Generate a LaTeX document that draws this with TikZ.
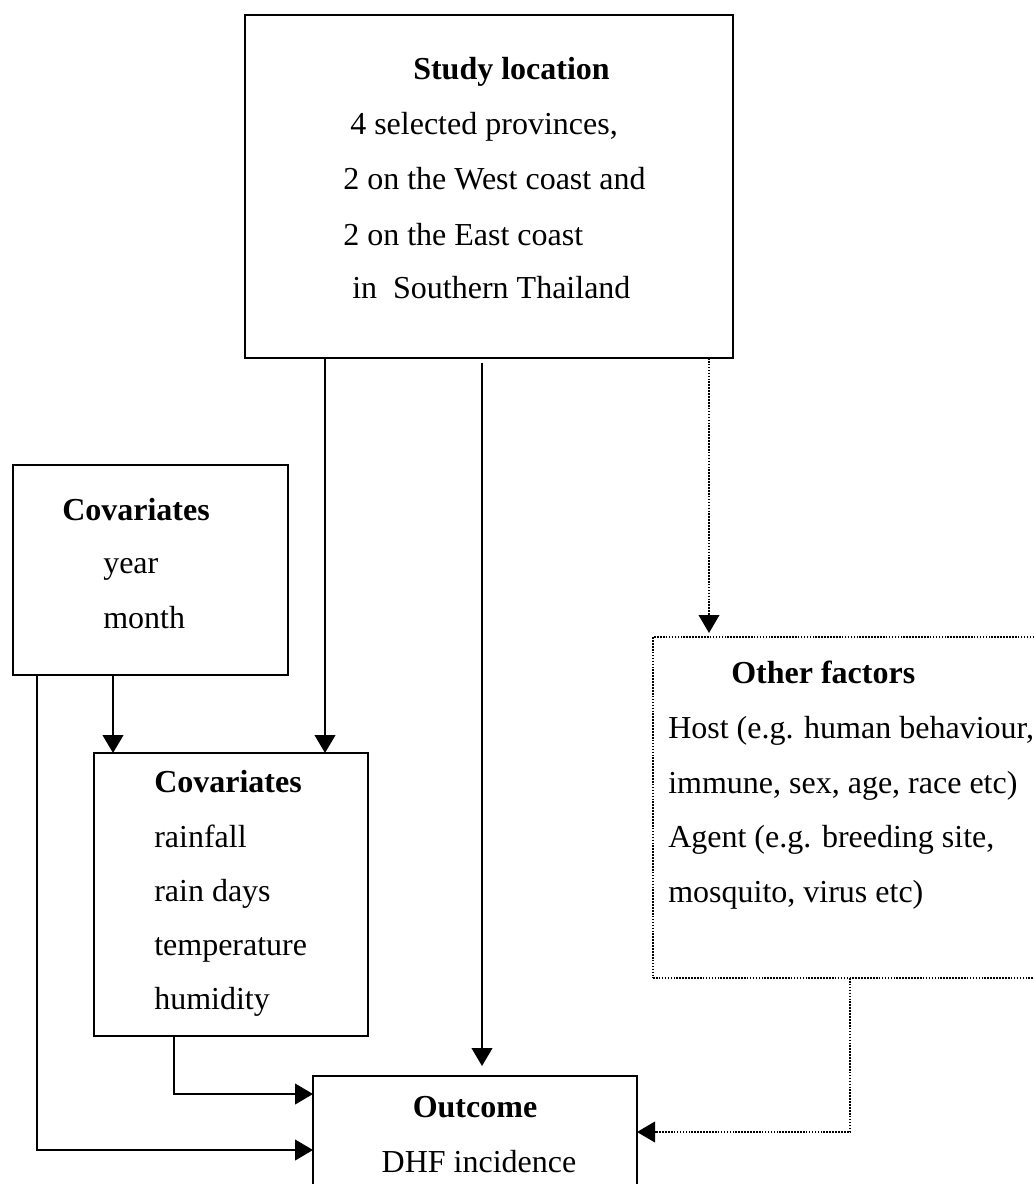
\documentclass[tikz,border=0pt]{standalone}
\usepackage{fontspec}
\setmainfont{Liberation Serif}
\usetikzlibrary{arrows.meta}
\begin{document}
\begin{tikzpicture}[x=0.75pt,y=-0.75pt,
  box/.style={draw, line width=1.8pt, inner sep=0pt, outer sep=0pt, anchor=north west},
  dbox/.style={draw, line width=1.2pt, densely dotted, inner sep=0pt, outer sep=0pt, anchor=north west},
  txt/.style={anchor=base west, inner sep=0pt, font=\fontsize{24}{30}\selectfont},
  ttl/.style={txt, font=\fontsize{24}{30}\selectfont\bfseries},
  arr/.style={line width=1.6pt, -{Triangle[width=15.5pt,length=13.5pt]}},
  darr/.style={line width=1.2pt, densely dotted, -{Triangle[width=15.5pt,length=13.5pt]}}]
\useasboundingbox (0,0) rectangle (1034,1184);
% boxes
\node[box, minimum width=366pt, minimum height=257.25pt] (loc) at (245,15) {};
\node[box, minimum width=206.25pt, minimum height=157.5pt] (cov1) at (13,465) {};
\node[box, minimum width=205.5pt, minimum height=212.25pt] (cov2) at (94,753) {};
\node[dbox, minimum width=297.75pt, minimum height=255.75pt] (oth) at (653,637) {};
\node[box, minimum width=243pt, minimum height=93pt] (out) at (313,1076) {};
% texts
\node[ttl] (loc1) at (413,80) {Study location};
\node[txt] (loc2) at (350,135) {4 selected provinces,};
\node[txt] (loc3) at (343,190) {2 on the West coast and};
\node[txt] (loc4) at (343,245) {2 on the East coast};
\node[txt] (loc5) at (352,298) {in\ \ Southern Thailand};
\node[ttl] (c1a) at (62,520) {Covariates};
\node[txt] (c1b) at (103,573) {year};
\node[txt] (c1c) at (103,628) {month};
\node[ttl] (c2a) at (154,792) {Covariates};
\node[txt] (c2b) at (154,847) {rainfall};
\node[txt] (c2c) at (154,901) {rain days};
\node[txt] (c2d) at (154,955) {temperature};
\node[txt] (c2e) at (154,1009) {humidity};
\node[ttl] (oa) at (731,683) {Other factors};
\node[txt] (ob) at (668,738) {Host (e.g. human behaviour,};
\node[txt] (oc) at (668,793) {immune, sex, age, race etc)};
\node[txt] (od) at (668,847) {Agent (e.g. breeding site,};
\node[txt] (oe) at (668,902) {mosquito, virus etc)};
\node[ttl, anchor=base] (oc1) at (475,1117) {Outcome};
\node[txt, anchor=base] (oc2) at (479,1172) {DHF incidence};
% helper coordinates
\coordinate (xA) at (325,0);
\coordinate (xB) at (482,0);
\coordinate (xC) at (709,0);
\coordinate (xD) at (113,0);
\coordinate (xE) at (37,0);
\coordinate (xF) at (174,0);
\coordinate (xG) at (850,0);
\coordinate (yU) at (0,1094);
\coordinate (yM) at (0,1132);
\coordinate (yL) at (0,1150);
% connectors
\draw[arr] (loc.south -| xA) -- (cov2.north -| xA);
\draw[arr, shorten <=3.5pt, shorten >=7.5pt] (loc.south -| xB) -- (out.north -| xB);
\draw[darr, shorten >=3pt] (loc.south -| xC) -- (oth.north -| xC);
\draw[arr] (cov1.south -| xD) -- (cov2.north -| xD);
\draw[arr] (cov1.south -| xE) |- (out.west |- yL);
\draw[arr] (cov2.south -| xF) |- (out.west |- yU);
\draw[darr] (oth.south -| xG) |- (out.east |- yM);
\end{tikzpicture}
\end{document}
